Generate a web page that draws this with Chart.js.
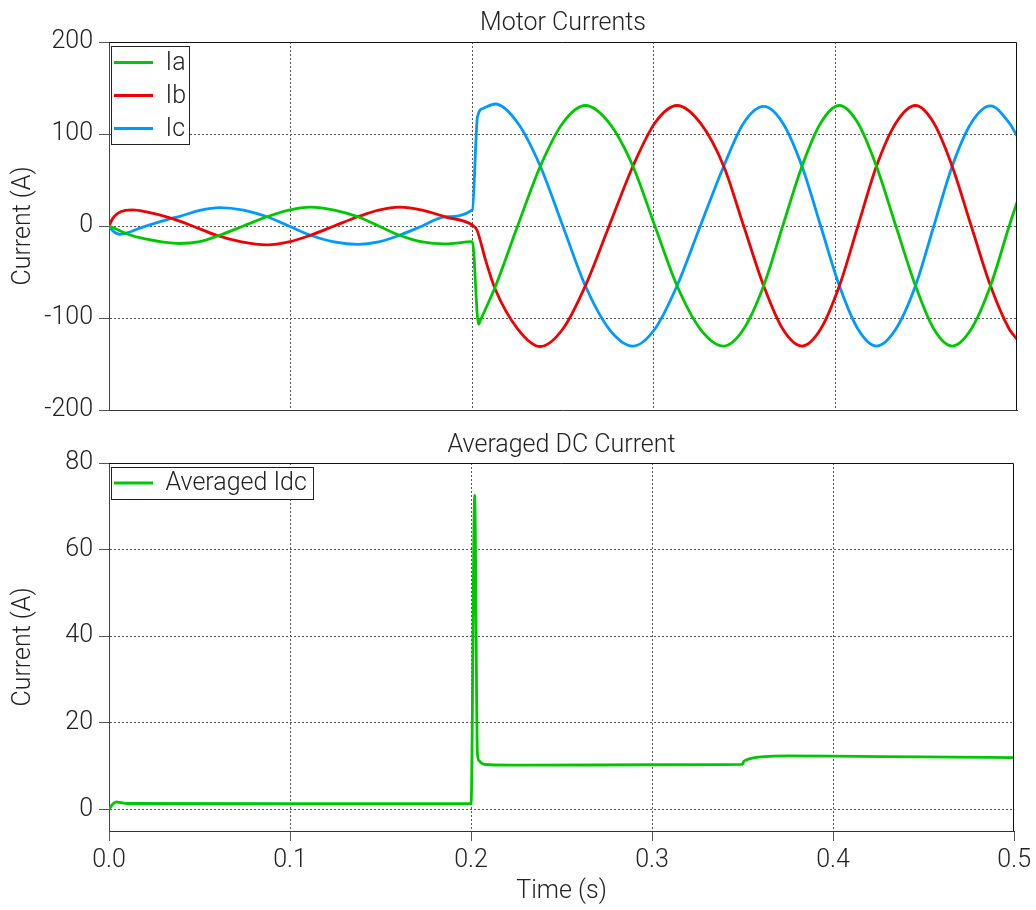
<!DOCTYPE html>
<html><head><meta charset="utf-8">
<script src="https://cdn.jsdelivr.net/npm/chart.js@4"></script>
<style>
html,body{margin:0;padding:0;background:#fff;}
#wrap{position:relative;width:1036px;height:910px;overflow:hidden;background:#fff;}
canvas{position:absolute;left:0;}
#c1{top:0}
#c2{top:422px}
</style></head><body>
<div id="wrap"><canvas id="c1" width="1036" height="440"></canvas><canvas id="c2" width="1036" height="488"></canvas></div>
<script>
// ---- data ----
const xTicks = [0, 0.1, 0.2, 0.3, 0.4, 0.5];
const yTicksTop = [-200, -100, 0, 100, 200];
const yTicksBottom = [0, 20, 40, 60, 80];

const iaT = [0, 0.003, 0.0116, 0.02, 0.03, 0.039, 0.050, 0.061, 0.074, 0.087, 0.099, 0.111, 0.124, 0.137, 0.1485, 0.160, 0.1725, 0.185, 0.2001, 0.2035, 0.2045, 0.2127, 0.225, 0.2375, 0.2499, 0.2623, 0.2754, 0.2885, 0.3006, 0.3128, 0.3256, 0.3385, 0.3495, 0.3605, 0.371, 0.3816, 0.3919, 0.4022, 0.4124, 0.4226, 0.4333, 0.4441, 0.4542, 0.4643, 0.4748, 0.4854, 0.4957, 0.5];
const iaV = [0, -2.5, -9.8, -14, -17.5, -19, -17, -10, 0, 10, 17.3, 20.5, 17.3, 10, 0, -10, -17.3, -19.5, -17, -106.9, -102.5, -66, 0, 65, 112, 131, 112, 65, 0, -65, -112, -130.5, -112, -65, 0, 65, 112, 131, 112, 65, 0, -65, -112, -130.5, -112, -65, 0, 26];

const ibT = [0, 0.002, 0.005, 0.009, 0.013, 0.02, 0.0345, 0.046, 0.059, 0.073, 0.087, 0.099, 0.111, 0.124, 0.137, 0.1485, 0.160, 0.1725, 0.185, 0.2001, 0.2026, 0.2075, 0.2127, 0.2251, 0.2375, 0.2499, 0.2623, 0.2754, 0.2885, 0.3006, 0.3128, 0.3256, 0.3385, 0.3495, 0.3605, 0.371, 0.3816, 0.3919, 0.4022, 0.4124, 0.4226, 0.4333, 0.4441, 0.4542, 0.4643, 0.4748, 0.4854, 0.4957, 0.5];
const ibV = [0, 8, 14, 17, 17.5, 15.5, 8.3, 0, -10, -17.3, -20.5, -17.3, -10, 0, 10, 17.3, 20.5, 17.3, 10, 1, -4.3, -38, -68.8, -112, -131, -112, -65, 0, 65, 112, 131, 112, 65, 0, -65, -112, -130.5, -112, -65, 0, 65, 112, 131, 112, 65, 0, -65, -112, -123];

const icT = [0, 0.002, 0.006, 0.010, 0.016, 0.022, 0.0345, 0.039, 0.050, 0.061, 0.074, 0.087, 0.099, 0.111, 0.124, 0.137, 0.1485, 0.160, 0.1725, 0.185, 0.2001, 0.2029, 0.2062, 0.2127, 0.2251, 0.2375, 0.2499, 0.2623, 0.2754, 0.2885, 0.3006, 0.3128, 0.3256, 0.3385, 0.3495, 0.3605, 0.371, 0.3816, 0.3919, 0.4022, 0.4124, 0.4226, 0.4333, 0.4441, 0.4542, 0.4643, 0.4748, 0.4854, 0.4957, 0.5];
const icV = [0, -5, -9, -7.5, -3, 1, 8.3, 10.5, 17, 20, 17.3, 10, 0, -10, -17.3, -20, -17.3, -10, 0, 10, 17.4, 118.8, 128, 132.6, 112, 65, 0, -65, -112, -130.5, -112, -65, 0, 65, 112, 130, 112, 65, 0, -65, -112, -130.5, -112, -65, 0, 65, 112, 130.5, 112, 98];

const idcT = [0, 0.002, 0.004, 0.006, 0.01, 0.1, 0.2, 0.202, 0.2035, 0.2045, 0.206, 0.21, 0.23, 0.3, 0.35, 0.3505, 0.352, 0.356, 0.362, 0.375, 0.4, 0.45, 0.5];
const idcV = [0, 1.2, 1.7, 1.6, 1.35, 1.3, 1.3, 72.5, 13, 11.2, 10.6, 10.3, 10.2, 10.3, 10.4, 11.0, 11.4, 11.9, 12.2, 12.35, 12.3, 12.1, 11.95];

const pts = (T, V) => T.map((t, i) => ({x: t, y: V[i]}));

// ---- styling ----
const FONT = {family: 'Roboto', size: 25, weight: '300'};
const TEXT = '#222';
const GREEN = 'rgb(0,200,0)', RED = 'rgb(240,0,0)', BLUE = 'rgb(0,153,255)';
Chart.defaults.font = Object.assign({}, FONT);
Chart.defaults.color = TEXT;

const framePlugin = {
  id: 'frame',
  afterDraw(chart) {
    const {ctx, chartArea: a} = chart;
    ctx.save();
    ctx.strokeStyle = '#111'; ctx.lineWidth = 1;
    const t = Math.round(a.top) + 0.5, r = Math.round(a.right) - 0.5;
    ctx.beginPath();
    ctx.moveTo(Math.round(a.left), t); ctx.lineTo(r, t); ctx.lineTo(r, Math.round(a.bottom));
    ctx.stroke();
    ctx.restore();
  }
};
const boxLegend = {
  id: 'boxLegend',
  afterDatasetsDraw(chart, args, o) {
    const {ctx, chartArea: a} = chart;
    const x0 = Math.round(a.left) + 2.5, y0 = Math.round(a.top) + 4.5;
    ctx.save();
    ctx.fillStyle = '#fff'; ctx.fillRect(x0, y0, o.w, o.h);
    ctx.strokeStyle = '#222'; ctx.lineWidth = 1; ctx.strokeRect(x0, y0, o.w, o.h);
    chart.data.datasets.forEach((ds, i) => {
      const y = y0 + o.first + i * o.step;
      ctx.strokeStyle = ds.borderColor; ctx.lineWidth = 3;
      ctx.beginPath(); ctx.moveTo(x0 + 2.5, y); ctx.lineTo(x0 + 41.5, y); ctx.stroke();
      ctx.fillStyle = TEXT; ctx.font = FONT.weight + ' ' + FONT.size + 'px ' + FONT.family;
      ctx.textBaseline = 'middle'; ctx.textAlign = 'left';
      ctx.fillText(ds.label, x0 + 54, y + 1);
    });
    ctx.restore();
  }
};

function setTicks(arr) { return scale => { scale.ticks = arr.map(v => ({value: v})); }; }
function gridColor(edges) {
  return ctx => (ctx.tick && edges.includes(ctx.tick.value)) ? 'rgba(0,0,0,0)' : '#555';
}
function lineDs(label, data, color) {
  return {label, data, borderColor: color, backgroundColor: color, borderWidth: 2.8,
    pointRadius: 0, cubicInterpolationMode: 'monotone', fill: false};
}

function makeChart(id, cfg) {
  return new Chart(document.getElementById(id), {
    type: 'line',
    data: {datasets: cfg.datasets},
    plugins: [framePlugin, boxLegend],
    options: {
      responsive: false, animation: false, events: [],
      layout: {padding: {left: 0, right: 19, top: 0, bottom: cfg.padBottom}},
      plugins: {
        legend: {display: false}, tooltip: {enabled: false},
        title: {display: true, text: cfg.title, fullSize: false, color: TEXT,
          font: Object.assign({}, FONT), padding: cfg.titlePad},
        boxLegend: cfg.legend
      },
      scales: {
        x: {
          type: 'linear', min: 0, max: 0.5,
          afterBuildTicks: setTicks(xTicks),
          afterFit: s => { s.height = cfg.xHeight; },
          grid: {color: gridColor([0, 0.5]), lineWidth: 1, drawTicks: cfg.xLabels,
            tickLength: 10, tickColor: '#555', tickWidth: 1},
          border: {display: true, color: '#333', width: 1, dash: [2, 2]},
          ticks: {display: cfg.xLabels, padding: 5, maxRotation: 0, color: TEXT,
            callback: v => Number(v).toFixed(1)},
          title: {display: cfg.xLabels, text: 'Time (s)', color: TEXT, padding: {top: 0, bottom: 3}}
        },
        y: {
          type: 'linear', min: cfg.yMin, max: cfg.yMax,
          afterBuildTicks: setTicks(cfg.yTicks),
          afterFit: s => { s.width = 109; },
          grid: {color: gridColor([cfg.yMin, cfg.yMax]), lineWidth: 1, drawTicks: true,
            tickLength: 10, tickColor: '#555', tickWidth: 1},
          border: {display: true, color: '#444', width: 1, dash: [2, 2]},
          ticks: {padding: 6, color: TEXT, callback: v => String(v)},
          title: {display: true, text: 'Current (A)', color: TEXT, padding: {top: 9, bottom: 0}}
        }
      }
    }
  });
}

makeChart('c1', {
  title: 'Motor Currents', titlePad: {top: 9, bottom: 3},
  datasets: [lineDs('Ia', pts(iaT, iaV), GREEN), lineDs('Ib', pts(ibT, ibV), RED), lineDs('Ic', pts(icT, icV), BLUE)],
  padBottom: 30, xHeight: 0, xLabels: false,
  yMin: -200, yMax: 200, yTicks: yTicksTop,
  legend: {w: 78, h: 98, first: 16, step: 33}
});
makeChart('c2', {
  title: 'Averaged DC Current', titlePad: {top: 9, bottom: 2},
  datasets: [lineDs('Averaged Idc', pts(idcT, idcV), GREEN)],
  padBottom: 0, xHeight: 79, xLabels: true,
  yMin: -5, yMax: 80, yTicks: yTicksBottom,
  legend: {w: 202, h: 32, first: 15.5, step: 33}
});
</script>
</body></html>
